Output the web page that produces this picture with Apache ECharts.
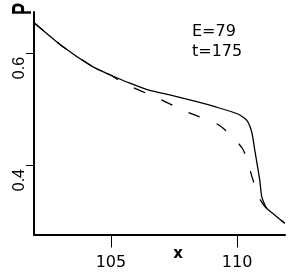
<!DOCTYPE html>
<html><head><meta charset="utf-8">
<script src="https://cdn.jsdelivr.net/npm/echarts@6/dist/echarts.min.js"></script>
<style>html,body{margin:0;padding:0;background:#fff}#c{width:291px;height:278px}</style>
</head><body><div id="c"></div>
<script>
const solidX = [101.95,103.10,104.29,104.96,105.75,106.54,107.33,108.44,109.12,110.03,110.38,110.58,110.70,110.82,110.90,110.98,111.17,111.49,111.89];
const solidY = [0.654,0.611,0.575,0.561,0.546,0.533,0.525,0.5125,0.504,0.491,0.480,0.459,0.427,0.395,0.373,0.343,0.323,0.311,0.296];
const dashX = [101.95,103.10,104.29,104.96,105.59,106.82,108.05,109.31,110.22,110.62,110.82,111.05,111.17,111.49,111.89];
const dashY = [0.654,0.611,0.575,0.561,0.544,0.520,0.494,0.4705,0.429,0.375,0.346,0.329,0.323,0.311,0.296];
const xTicks = [105,110];
const yTicks = [0.4,0.6];
const xName = 'x';
const yName = 'P';
const notes = ['E=79','t=175'];

const chart = echarts.init(document.getElementById('c'), null, {renderer:'canvas'});
const zip = (a,b)=>a.map((v,i)=>[v,b[i]]);
chart.setOption({
  animation:false,
  backgroundColor:'#fff',
  grid:{left:34,right:6,top:12,bottom:43.5,containLabel:false},
  xAxis:{type:'value',min:101.95,max:111.9,
    axisLine:{show:true,onZero:false,lineStyle:{color:'#000',width:2}},
    axisTick:{show:true,length:13,customValues:xTicks,lineStyle:{color:'#000',width:1}},
    axisLabel:{customValues:xTicks,margin:20,fontFamily:'DejaVu Sans',fontSize:16,color:'#000'},
    splitLine:{show:false}},
  yAxis:{type:'value',min:0.276,max:0.673,
    axisLine:{show:true,onZero:false,lineStyle:{color:'#000',width:2}},
    axisTick:{show:true,length:8,customValues:yTicks,lineStyle:{color:'#000',width:1}},
    axisLabel:{customValues:yTicks,rotate:90,align:'right',verticalAlign:'bottom',margin:6,
      padding:[0,4,0,0],fontFamily:'Liberation Sans',fontSize:16,color:'#000',
      formatter:v=>v.toFixed(1)},
    splitLine:{show:false}},
  graphic:[
    {type:'text',x:37,y:9,rotation:Math.PI/2,scaleY:1.55,
      style:{text:yName,font:'bold 18px "Liberation Sans"',fill:'#000',textAlign:'center',textVerticalAlign:'bottom'}},
    {type:'text',x:178,y:254.5,
      style:{text:xName,font:'bold 15px "DejaVu Sans"',fill:'#000',textAlign:'center',textVerticalAlign:'middle'}},
    {type:'text',x:192,y:32,
      style:{text:notes[0],font:'16px "DejaVu Sans"',fill:'#000',textAlign:'left',textVerticalAlign:'middle'}},
    {type:'text',x:192,y:52,
      style:{text:notes[1],font:'16px "DejaVu Sans"',fill:'#000',textAlign:'left',textVerticalAlign:'middle'}}
  ],
  series:[
    {type:'line',data:zip(solidX,solidY),showSymbol:false,symbol:'none',smooth:0.2,
      lineStyle:{color:'#000',width:1.3}},
    {type:'line',data:zip(dashX,dashY),showSymbol:false,symbol:'none',smooth:0.2,
      lineStyle:{color:'#000',width:1.3,type:[12,18]}}
  ]
});
</script></body></html>
